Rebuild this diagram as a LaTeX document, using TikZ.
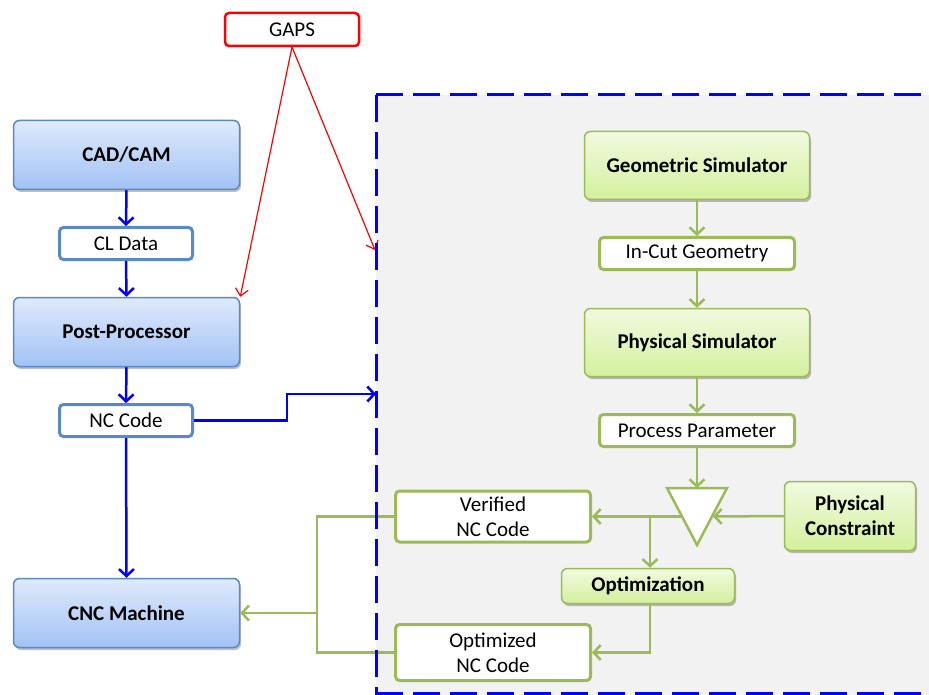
\documentclass[tikz,border=0pt]{standalone}
\usepackage{fontspec}
\setmainfont{Carlito}
\usetikzlibrary{arrows.meta,shadows}
\definecolor{lineblue}{HTML}{0000FF}
\definecolor{boxblue}{HTML}{5A8AC6}
\definecolor{bluetop}{HTML}{DFEAFC}
\definecolor{bluebot}{HTML}{A2C2F5}
\definecolor{boxgreen}{HTML}{9BBB59}
\definecolor{greentop}{HTML}{F1FADF}
\definecolor{greenbot}{HTML}{D4F09E}
\definecolor{panelgray}{HTML}{F2F2F2}
\definecolor{gapsred}{HTML}{FF0000}
\begin{document}
\begin{tikzpicture}[x=1pt,y=-1pt,
  shadowed/.style={drop shadow={shadow xshift=1.5pt,shadow yshift=-2.5pt,opacity=0.25,fill=black}},
  bluebox/.style={draw=boxblue,line width=1.5pt,top color=bluetop,bottom color=bluebot,
    rounded corners=6pt,inner sep=0pt,font=\bfseries\fontsize{21}{25}\selectfont,shadowed},
  bluewhite/.style={draw=boxblue,line width=3pt,fill=white,rounded corners=4pt,inner sep=0pt,
    font=\fontsize{21}{25}\selectfont},
  greenbox/.style={draw=boxgreen,line width=1.5pt,top color=greentop,bottom color=greenbot,
    rounded corners=6pt,inner sep=0pt,align=center,font=\bfseries\fontsize{21}{25}\selectfont,shadowed},
  greenwhite/.style={draw=boxgreen,line width=3pt,fill=white,rounded corners=4pt,inner sep=0pt,
    align=center,font=\fontsize{21}{25}\selectfont},
  gapsbox/.style={draw=gapsred,line width=2.5pt,fill=white,rounded corners=4pt,inner sep=0pt,
    font=\fontsize{21}{25}\selectfont},
  bluearrow/.style={draw=lineblue,line width=2.5pt,-{Straight Barb[length=7pt,width=15pt]}},
  greenline/.style={draw=boxgreen,line width=2.5pt},
  greenarrow/.style={greenline,-{Straight Barb[length=7pt,width=15pt]}},
  redarrow/.style={draw=gapsred,line width=1.2pt,-{Straight Barb[length=7pt,width=13pt]}},
  panelborder/.style={draw=lineblue,line width=3pt,dash pattern=on 27pt off 10pt}
]
\clip (0,0) rectangle (929,695);
\useasboundingbox (0,0) rectangle (929,695);
% panel
\fill[panelgray] (376,95) rectangle (960,720);

% left column
\node[bluebox,minimum width=226pt,minimum height=69pt] (cad) at (126.5,155) {CAD/CAM};
\node[bluewhite,minimum width=133pt,minimum height=32pt] (cl) at (126,243.5) {CL Data};
\node[bluebox,minimum width=226pt,minimum height=69pt] (pp) at (126.5,332) {Post-Processor};
\node[bluewhite,minimum width=133pt,minimum height=32pt] (nc) at (126,420.5) {NC Code};
\node[bluebox,minimum width=226pt,minimum height=69pt] (cnc) at (126.5,613) {CNC Machine};

% GAPS
\node[gapsbox,minimum width=134pt,minimum height=33pt] (gaps) at (292,29.5) {GAPS};

% right column
\node[greenbox,minimum width=225pt,minimum height=68pt] (geo) at (697,165.5) {Geometric Simulator};
\node[greenwhite,minimum width=195pt,minimum height=32pt] (incut) at (697,253.5) {In-Cut Geometry};
\node[greenbox,minimum width=225pt,minimum height=68pt] (phys) at (697,342.5) {Physical Simulator};
\node[greenwhite,minimum width=195pt,minimum height=32pt] (proc) at (697,430.5) {Process Parameter};
\node[greenbox,minimum width=131pt,minimum height=69pt] (pc) at (850,516) {Physical\\Constraint};
\node[greenwhite,minimum width=195pt,minimum height=51pt] (ver) at (493,516.5) {Verified\\NC Code};
\node[greenbox,minimum width=173pt,minimum height=35pt] (opt) at (648,586) {Optimization};
\node[greenwhite,minimum width=195pt,minimum height=56pt] (optnc) at (493,652.5) {Optimized\\NC Code};

% comparator triangle
\coordinate (tTL) at (667,488);
\coordinate (tTR) at (727,488);
\coordinate (tB) at (697,545);
\coordinate (tTop) at (697,488);
\coordinate (tL) at (682,516.5);
\coordinate (tR) at (713,516.5);
\coordinate (split) at (650,516.5);
\draw[boxgreen,line width=2.5pt,fill=white,line join=miter] (tTL) -- (tTR) -- (tB) -- cycle;

% blue connectors
\draw[bluearrow] (cad.south) -- (cl.north);
\draw[bluearrow] (cl.south) -- (pp.north);
\draw[bluearrow] (pp.south) -- (nc.north);
\draw[bluearrow] (nc.south) -- (cnc.north);
\coordinate (panelin) at (376,394);
\draw[bluearrow] (nc.east) -- (287,420.5) -- (287,394) -- (panelin);

% red connectors
\coordinate (gapsfoot) at (292,47);
\coordinate (redtip) at (375,250);
\draw[redarrow] (gapsfoot) -- (pp.north east);
\draw[redarrow] (gapsfoot) -- (redtip);

% green connectors
\draw[greenarrow] (geo.south) -- (incut.north);
\draw[greenarrow] (incut.south) -- (phys.north);
\draw[greenarrow] (phys.south) -- (proc.north);
\draw[greenarrow] (proc.south) -- (tTop);
\draw[greenarrow] (pc.west) -- (tR);
\draw[greenarrow] (tL) -- (ver.east);
\draw[greenarrow] (split) -- (split |- opt.north);
\draw[greenarrow] (opt.south -| split) -- (650,652.5) -- (optnc.east);
\draw[greenline] (ver.west) -- (317,516.5) -- (317,652.5) -- (optnc.west);
\coordinate (merge) at (317,613);
\draw[greenarrow] (merge) -- (cnc.east);

% panel border
\draw[panelborder] (376,95) -- (960,95);
\draw[panelborder] (376,95) -- (376,720);
\draw[panelborder] (376,693.5) -- (960,693.5);
\end{tikzpicture}
\end{document}
